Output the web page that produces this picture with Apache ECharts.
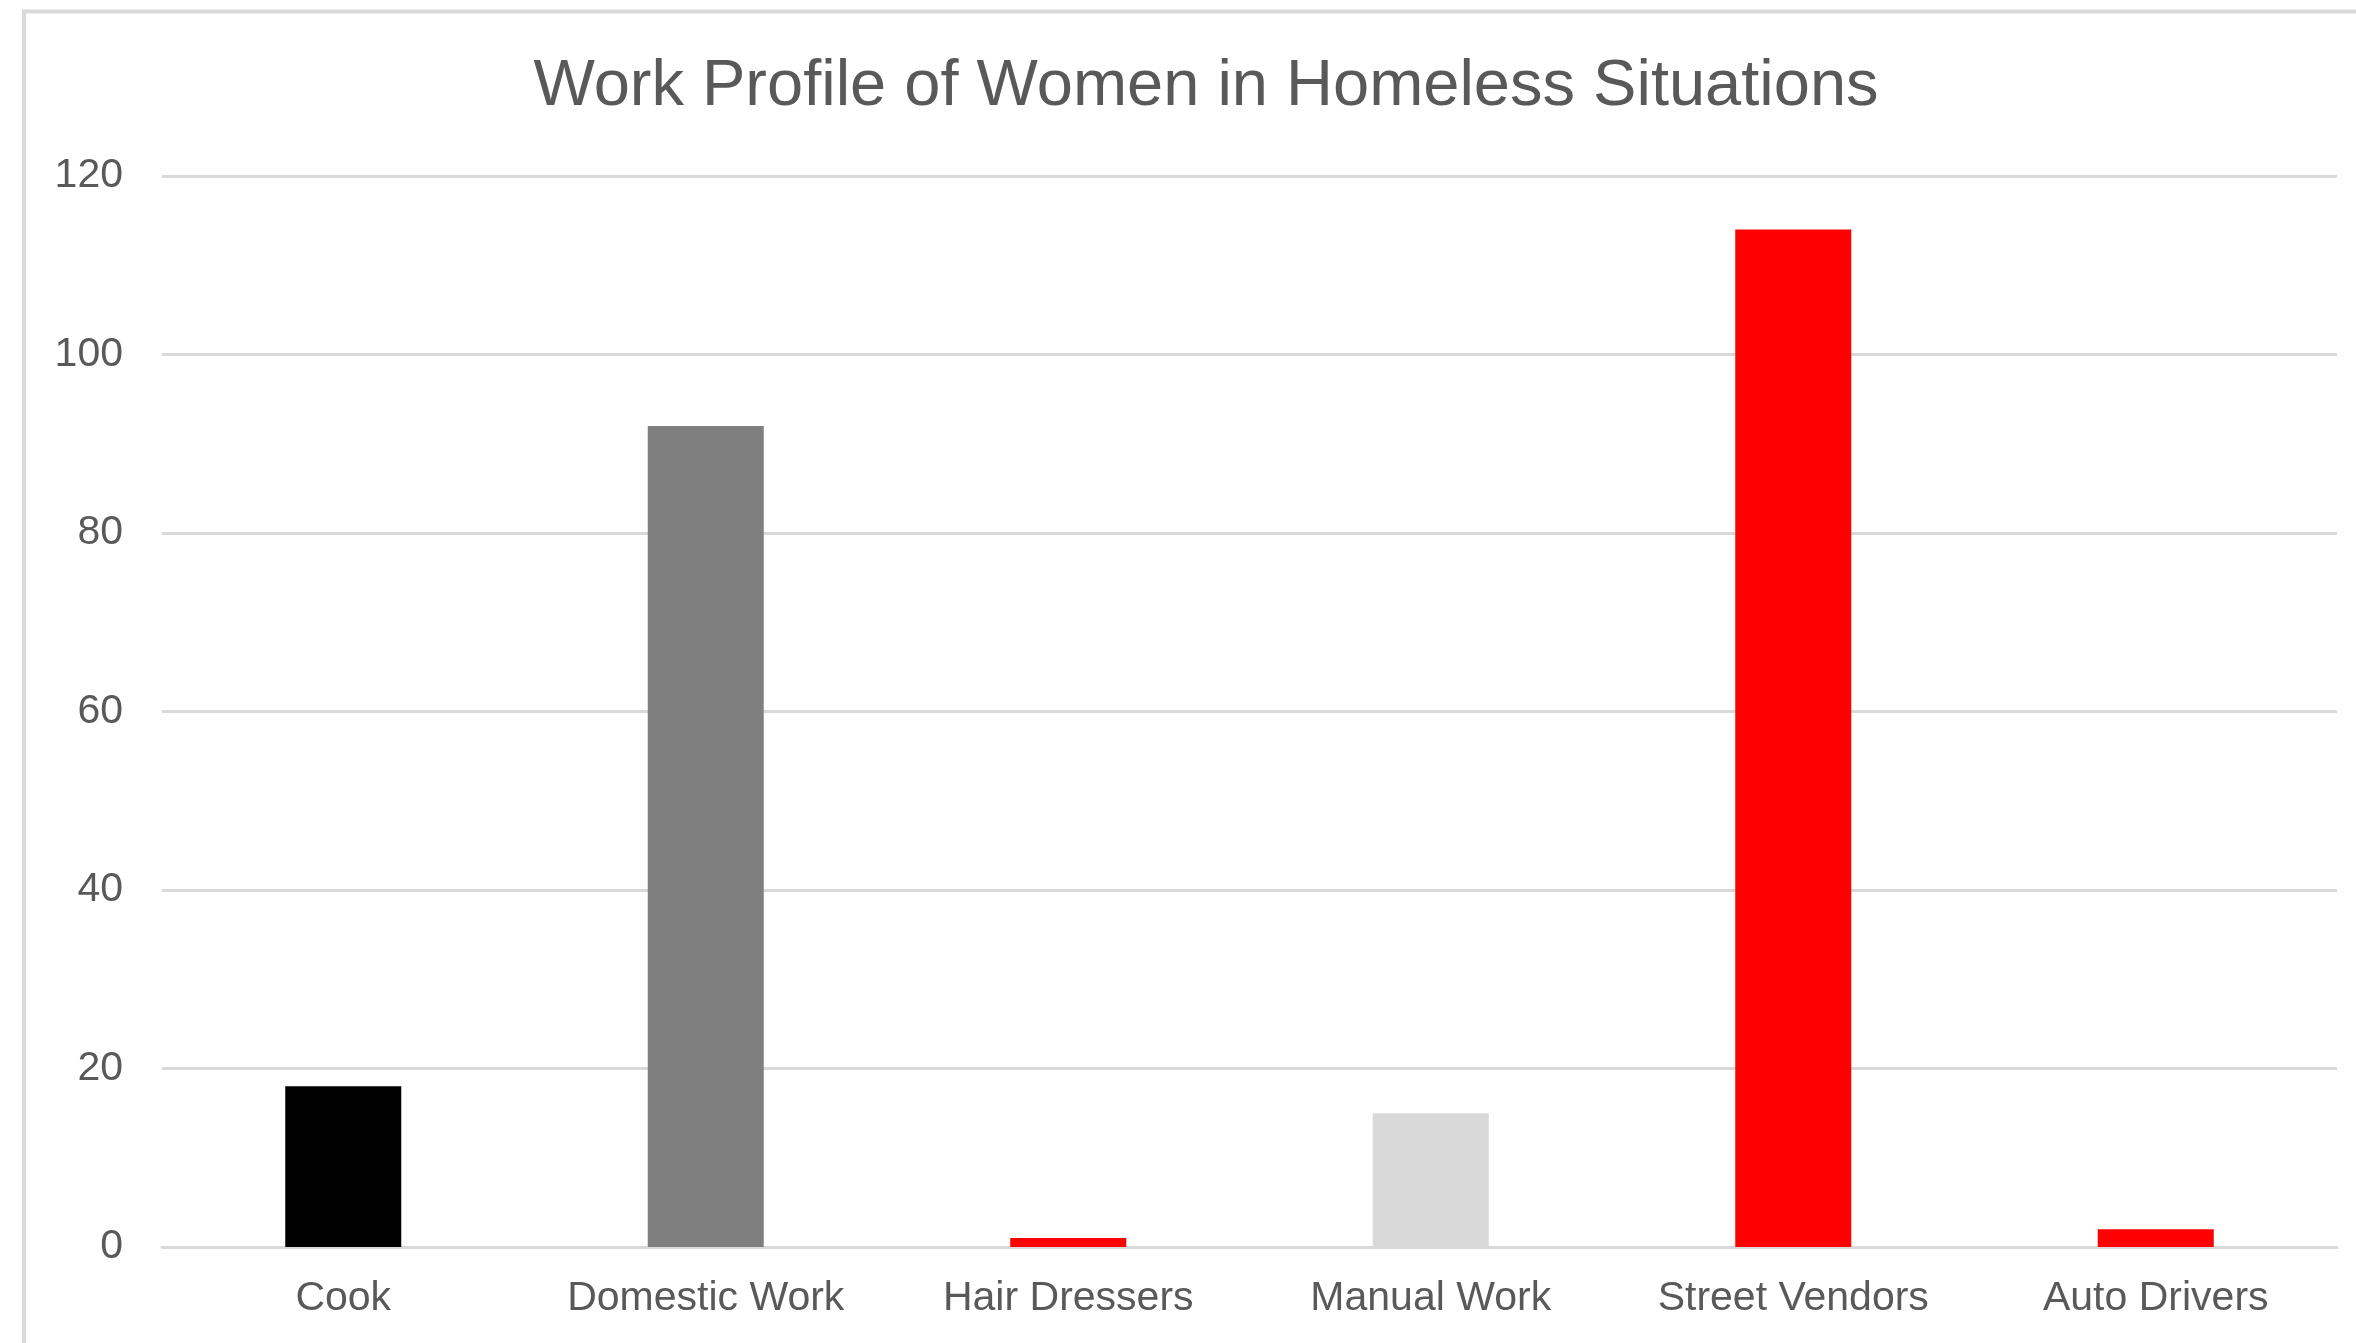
<!DOCTYPE html>
<html>
<head>
<meta charset="utf-8">
<script src="https://cdn.jsdelivr.net/npm/echarts@6/dist/echarts.min.js"></script>
<style>
html,body{margin:0;padding:0;background:#fff;}
#chart{width:2356px;height:1343px;}
</style>
</head>
<body>
<div id="chart"></div>
<script>
const titleText = 'Work Profile of Women in Homeless Situations';
const categories = ['Cook', 'Domestic Work', 'Hair Dressers', 'Manual Work', 'Street Vendors', 'Auto Drivers'];
const values = [18, 92, 1, 15, 114, 2];
const barColors = ['#000000', '#7f7f7f', '#ff0000', '#d9d9d9', '#ff0000', '#ff0000'];
const yTicks = [0, 20, 40, 60, 80, 100, 120];

const chart = echarts.init(document.getElementById('chart'), null, {renderer: 'canvas'});
const font = '"Liberation Sans", Arial, Helvetica, sans-serif';
chart.setOption({
  backgroundColor: '#ffffff',
  animation: false,
  graphic: [{
    type: 'rect',
    shape: {x: 24, y: 11.5, width: 2500, height: 1500},
    style: {fill: 'none', stroke: '#d9d9d9', lineWidth: 4},
    silent: true
  }],
  title: {
    text: titleText,
    left: 1201,
    textAlign: 'center',
    top: 50,
    textStyle: {fontFamily: font, fontSize: 65, fontWeight: 'normal', color: '#595959'}
  },
  grid: {left: 162, right: 19, top: 176, bottom: 96, containLabel: false},
  xAxis: {
    type: 'category',
    data: categories,
    axisLine: {show: true, lineStyle: {color: '#d9d9d9', width: 3}},
    axisTick: {show: false},
    axisLabel: {fontFamily: font, fontSize: 41, color: '#595959', margin: 31, interval: 0}
  },
  yAxis: {
    type: 'value',
    min: yTicks[0],
    max: yTicks[yTicks.length - 1],
    interval: yTicks[1] - yTicks[0],
    axisLine: {show: false},
    axisTick: {show: false},
    axisLabel: {fontFamily: font, fontSize: 41, color: '#595959', margin: 39},
    splitLine: {lineStyle: {color: '#d9d9d9', width: 3}}
  },
  series: [{
    type: 'bar',
    data: values.map((v, i) => ({value: v, itemStyle: {color: barColors[i]}})),
    barWidth: '32%'
  }]
});
</script>
</body>
</html>
